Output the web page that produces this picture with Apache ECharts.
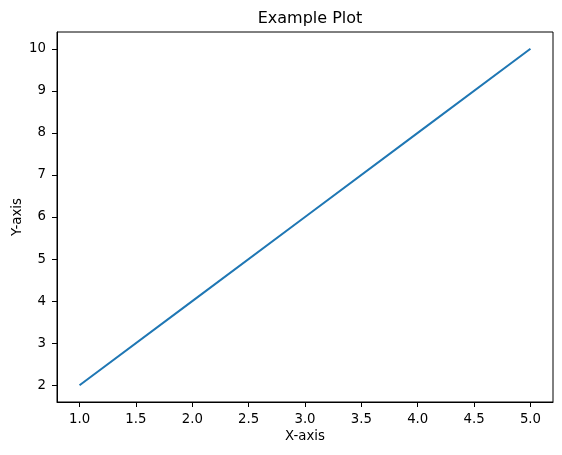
<!DOCTYPE html>
<html>
<head>
<meta charset="utf-8">
<script src="https://cdn.jsdelivr.net/npm/echarts@6/dist/echarts.min.js"></script>
<style>
html,body{margin:0;padding:0;background:#fff;}
#chart{width:562px;height:455px;}
</style>
</head>
<body>
<div id="chart"></div>
<script>
const xValues = [1, 2, 3, 4, 5];
const yValues = [2, 4, 6, 8, 10];
const xTicks = [1.0, 1.5, 2.0, 2.5, 3.0, 3.5, 4.0, 4.5, 5.0];
const yTicks = [2, 3, 4, 5, 6, 7, 8, 9, 10];
const titleText = 'Example Plot';
const xName = 'X-axis';
const yName = 'Y-axis';

const font = 'DejaVu Sans';
const chart = echarts.init(document.getElementById('chart'), null, {renderer: 'canvas'});
chart.setOption({
  animation: false,
  backgroundColor: '#ffffff',
  title: {
    text: titleText,
    left: 305,
    top: 6,
    textAlign: 'center',
    textStyle: {fontFamily: font, fontSize: 16, fontWeight: 'normal', color: '#000'}
  },
  grid: {
    left: 57, right: 9, top: 32, bottom: 53,
    outerBoundsMode: 'none', containLabel: false,
    show: true, borderColor: '#000', borderWidth: 1, backgroundColor: 'transparent'
  },
  xAxis: {
    type: 'value', min: 0.8, max: 5.2,
    name: xName, nameLocation: 'middle', nameGap: 28, nameMoveOverlap: false,
    nameTextStyle: {fontFamily: font, fontSize: 13.3, color: '#000'},
    axisLine: {show: true, onZero: false, lineStyle: {color: '#000', width: 1}},
    axisTick: {show: true, length: 5, lineStyle: {color: '#000'}, customValues: xTicks},
    axisLabel: {show: true, margin: 11, fontFamily: font, fontSize: 13.3, color: '#000',
      customValues: xTicks, formatter: v => v.toFixed(1)},
    splitLine: {show: false}
  },
  yAxis: {
    type: 'value', min: 1.6, max: 10.4,
    name: yName, nameLocation: 'middle', nameGap: 33, nameRotate: 90, nameMoveOverlap: false,
    nameTextStyle: {fontFamily: font, fontSize: 13.3, color: '#000'},
    axisLine: {show: true, onZero: false, lineStyle: {color: '#000', width: 1}},
    axisTick: {show: true, length: 5, lineStyle: {color: '#000'}, customValues: yTicks},
    axisLabel: {show: true, margin: 11, fontFamily: font, fontSize: 13.3, color: '#000',
      customValues: yTicks, formatter: v => String(v)},
    splitLine: {show: false}
  },
  series: [{
    type: 'line',
    data: xValues.map((x, i) => [x, yValues[i]]),
    showSymbol: false,
    symbol: 'none',
    lineStyle: {color: '#1f77b4', width: 2},
    itemStyle: {color: '#1f77b4'}
  }]
});
</script>
</body>
</html>
